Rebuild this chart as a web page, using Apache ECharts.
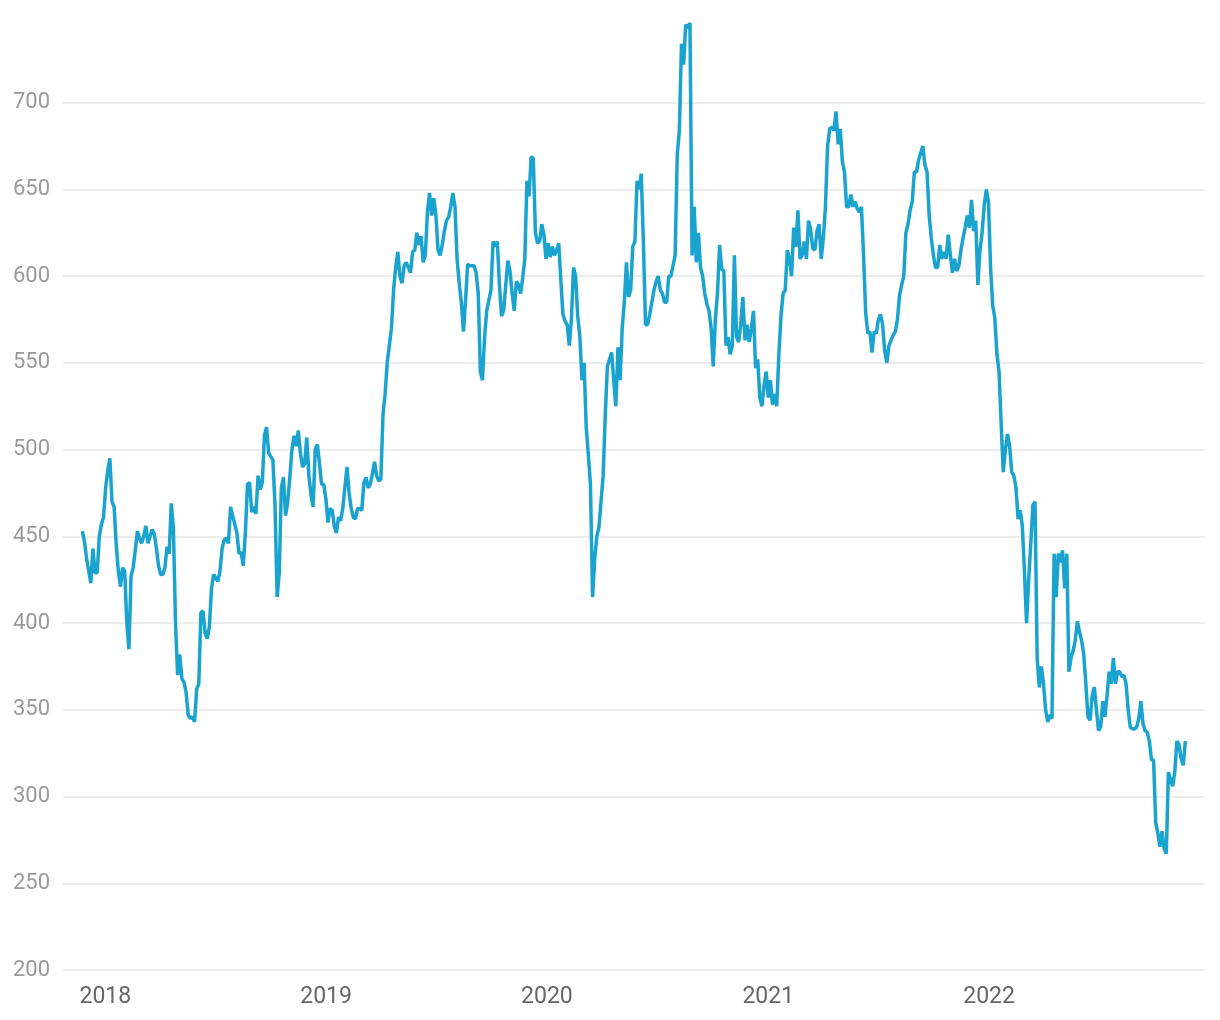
<!DOCTYPE html>
<html>
<head>
<meta charset="utf-8">
<script src="https://cdn.jsdelivr.net/npm/echarts@6/dist/echarts.min.js"></script>
<style>
html,body{margin:0;padding:0;background:#fff;}
#chart{width:1220px;height:1020px;}
</style>
</head>
<body>
<div id="chart"></div>
<script>
// half-weekly observations starting 2017-11-24
const startDate = '2017-11-24';
const stepDays = 3.5;
const values = [
453,447,437,430,423,443,429,429,450,457,461,478,488,495,470,467,445,430,421,432,
430,400,385,427,432,442,453,449,446,450,456,446,450,454,451,443,433,428,428,432,
444,440,469,455,400,370,382,368,366,360,347,345,346,343,362,365,406,407,394,391,
398,420,428,426,424,430,443,448,449,446,467,462,457,452,440,441,433,452,480,481,
464,467,463,485,477,481,508,513,498,496,494,468,415,429,478,484,462,470,484,500,
508,502,511,498,490,492,507,485,474,467,500,503,492,480,480,472,458,466,465,456,
452,461,459,466,478,490,475,466,461,460,466,466,465,481,484,478,480,486,493,485,
482,483,520,532,550,560,570,592,605,614,600,596,606,608,605,602,614,615,625,618,
623,608,612,637,648,635,645,635,615,612,618,626,632,634,640,648,640,610,596,585,
568,586,607,606,606,606,602,590,545,540,565,580,586,592,620,617,620,595,577,580,
595,609,603,590,580,597,595,590,599,610,655,646,669,668,625,619,620,630,624,610,
619,611,617,612,615,619,598,578,574,572,560,575,605,600,577,565,540,550,513,497,
480,415,437,450,455,470,485,520,548,552,556,540,525,559,540,570,585,608,588,592,
617,620,655,650,659,620,572,572,578,585,592,597,600,592,590,585,585,600,600,606,
612,670,684,734,722,745,743,746,612,640,608,625,605,600,590,584,580,570,548,575,
590,618,604,603,560,565,555,560,612,565,562,572,588,563,572,562,570,580,547,552,
530,525,537,545,530,540,526,532,525,555,577,590,592,615,610,600,628,617,638,610,
612,620,610,632,627,616,615,626,630,610,622,640,675,685,686,684,695,676,685,666,
660,640,640,647,640,643,639,637,640,612,579,567,568,556,568,567,575,578,572,557,
550,560,563,566,568,575,589,595,600,625,630,638,643,660,660,667,671,675,664,660,
635,622,612,605,605,618,610,614,610,624,612,602,610,603,606,615,622,628,635,628,
644,626,632,595,615,625,641,650,643,605,583,576,555,545,515,487,500,509,502,487,
485,478,460,465,456,430,400,425,446,468,470,380,363,375,365,350,343,347,345,440,
415,440,435,442,420,440,372,380,384,390,401,395,390,382,365,346,344,358,363,350,
338,340,355,346,358,372,365,380,365,372,372,369,370,365,350,340,339,339,340,345,
355,342,338,337,332,321,321,285,279,271,280,270,267,314,310,306,314,332,330,322,
318,332
];
const yTicks = {min:200, max:750, interval:50};
const xRange = {min:'2017-10-23', max:'2022-12-24'};

const t0 = new Date(startDate + 'T00:00:00').getTime();
const seriesData = values.map((v, i) => [t0 + i * stepDays * 86400000, v]);

const chart = echarts.init(document.getElementById('chart'));
chart.setOption({
  animation: false,
  grid: {left: 63, right: 15, top: 16, bottom: 50, containLabel: false},
  xAxis: {
    type: 'time',
    min: xRange.min,
    max: xRange.max,
    minInterval: 365 * 86400000,
    maxInterval: 366 * 86400000,
    axisLine: {show: false},
    axisTick: {show: false},
    splitLine: {show: false},
    axisLabel: {
      formatter: function (v) { return String(new Date(v).getFullYear()); },
      color: '#666',
      fontSize: 23,
      fontFamily: 'Roboto',
      fontWeight: 'normal',
      margin: 16,
      showMinLabel: false,
      showMaxLabel: false
    }
  },
  yAxis: {
    type: 'value',
    min: yTicks.min,
    max: yTicks.max,
    interval: yTicks.interval,
    axisLine: {show: false},
    axisTick: {show: false},
    axisLabel: {color: '#9a9a9a', fontSize: 22, fontFamily: 'Roboto', margin: 13, showMaxLabel: false},
    splitLine: {show: true, showMaxLine: false, lineStyle: {color: '#e6e6e6', width: 1.5}}
  },
  series: [{
    type: 'line',
    data: seriesData,
    showSymbol: false,
    symbol: 'none',
    lineStyle: {color: '#1ba3cf', width: 3.5},
    itemStyle: {color: '#1ba3cf'}
  }]
});
</script>
</body>
</html>
